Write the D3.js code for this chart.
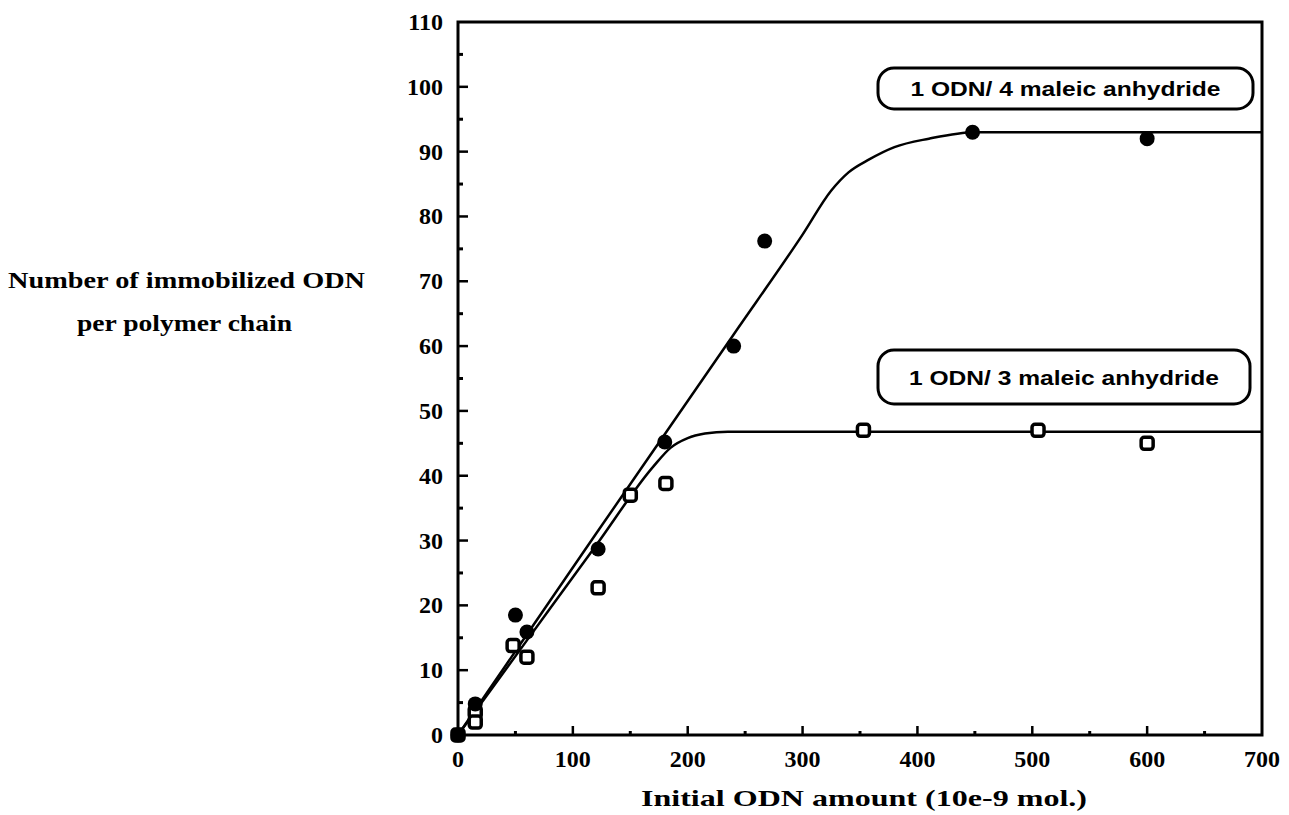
<!DOCTYPE html>
<html>
<head>
<meta charset="utf-8">
<script src="https://cdn.jsdelivr.net/npm/d3@7"></script>
<style>
  html, body { margin: 0; padding: 0; background: #fff; }
  svg { display: block; }
  .tick-lbl { font-family: "Liberation Serif", "DejaVu Serif", serif; font-weight: bold; font-size: 24px; fill: #000; }
  .ttl { font-family: "Liberation Serif", "DejaVu Serif", serif; font-weight: bold; font-size: 24px; fill: #000; }
  .lg { font-family: "Liberation Sans", Arial, sans-serif; font-weight: bold; font-size: 20px; fill: #000; }
</style>
</head>
<body>
<div id="chart"></div>
<script>
// ---- data ----
// 1 ODN / 4 maleic anhydride (filled circles)
const odn4X = [0, 15, 50, 60, 122, 180, 240, 267, 448, 600];
const odn4Y = [0, 4.8, 18.5, 15.9, 28.7, 45.2, 60, 76.2, 93, 92];
// 1 ODN / 3 maleic anhydride (open squares)
const odn3X = [0, 15, 15, 48, 60, 122, 150, 181, 353, 505, 600];
const odn3Y = [0, 3.5, 2, 13.8, 12, 22.7, 37, 38.8, 47, 47, 45];
// hand-drawn fit curves
const fit4X = [0, 60, 120, 180, 240, 300, 325, 340, 358, 380, 410, 450, 700];
const fit4Y = [0, 15.5, 31, 46.4, 61.8, 77.2, 84, 86.8, 88.8, 90.7, 92, 93, 93];
const fit3X = [0, 60, 120, 170, 185, 200, 215, 235, 260, 700];
const fit3Y = [0, 14.6, 29.2, 41.4, 44.3, 45.8, 46.5, 46.8, 46.8, 46.8];

const xTicks = [0, 100, 200, 300, 400, 500, 600, 700];
const yTicks = [0, 10, 20, 30, 40, 50, 60, 70, 80, 90, 100, 110];
const legendLabels = ["1 ODN/ 4 maleic anhydride", "1 ODN/ 3 maleic anhydride"];
const yTitle = ["Number of immobilized ODN", "per polymer chain"];
const xTitle = "Initial ODN amount (10e-9 mol.)";

(function () {
  const W = 1289, H = 815;
  const box = { left: 458, right: 1262, top: 22, bottom: 735 };
  const svg = d3.select("#chart").append("svg").attr("width", W).attr("height", H);

  const x = d3.scaleLinear().domain([0, 700]).range([box.left, box.right]);
  const y = d3.scaleLinear().domain([0, 110]).range([box.bottom, box.top]);

  // frame
  svg.append("rect").attr("x", box.left).attr("y", box.top)
    .attr("width", box.right - box.left).attr("height", box.bottom - box.top)
    .attr("fill", "none").attr("stroke", "#000").attr("stroke-width", 3);

  // ticks: majors + minors pointing inward
  const g = svg.append("g");
  d3.range(0, 701, 50).forEach((v) => {
    const major = v % 100 === 0;
    if (v === 0 || v === 700) return;
    g.append("line").attr("x1", x(v)).attr("x2", x(v)).attr("y1", box.bottom)
      .attr("y2", box.bottom - (major ? 9 : 4)).attr("stroke", "#000").attr("stroke-width", major ? 2.5 : 3);
  });
  d3.range(0, 111, 5).forEach((v) => {
    const major = v % 10 === 0;
    if (v === 0 || v === 110) return;
    g.append("line").attr("y1", y(v)).attr("y2", y(v)).attr("x1", box.left)
      .attr("x2", box.left + (major ? 10 : 5)).attr("stroke", "#000").attr("stroke-width", major ? 2.5 : 3);
  });

  // tick labels
  svg.selectAll("text.xl").data(xTicks).join("text").attr("class", "tick-lbl xl")
    .attr("x", (d) => x(d)).attr("y", box.bottom + 32).attr("text-anchor", "middle").text((d) => d);
  svg.selectAll("text.yl").data(yTicks).join("text").attr("class", "tick-lbl yl")
    .attr("x", box.left - 15).attr("y", (d) => y(d) + 8).attr("text-anchor", "end").text((d) => d);

  // titles
  svg.append("text").attr("class", "ttl").attr("x", (box.left + box.right) / 2 + 4).attr("y", 806)
    .attr("text-anchor", "middle").attr("textLength", 446).attr("lengthAdjust", "spacingAndGlyphs").text(xTitle);
  svg.append("text").attr("class", "ttl").attr("x", 8).attr("y", 288)
    .attr("textLength", 357).attr("lengthAdjust", "spacingAndGlyphs").text(yTitle[0]);
  svg.append("text").attr("class", "ttl").attr("x", 77).attr("y", 331)
    .attr("textLength", 215).attr("lengthAdjust", "spacingAndGlyphs").text(yTitle[1]);

  // fit curves
  const line = d3.line().x((d) => x(d[0])).y((d) => y(d[1])).curve(d3.curveMonotoneX);
  [[fit4X, fit4Y], [fit3X, fit3Y]].forEach(([xs, ys]) => {
    svg.append("path").datum(xs.map((v, i) => [v, ys[i]])).attr("d", line)
      .attr("fill", "none").attr("stroke", "#000").attr("stroke-width", 2.5);
  });

  // markers
  svg.selectAll("rect.sq").data(odn3X.map((v, i) => [v, odn3Y[i]])).join("rect").attr("class", "sq")
    .attr("x", (d) => x(d[0]) - 6).attr("y", (d) => y(d[1]) - 6).attr("width", 12).attr("height", 12)
    .attr("rx", 3).attr("fill", "#fff").attr("stroke", "#000").attr("stroke-width", 3.5);
  svg.selectAll("circle.dot").data(odn4X.map((v, i) => [v, odn4Y[i]])).join("circle").attr("class", "dot")
    .attr("cx", (d) => x(d[0])).attr("cy", (d) => y(d[1])).attr("r", 7.5).attr("fill", "#000");

  // legend boxes
  const lgBoxes = [{ x: 878, y: 68, w: 375, h: 41, ty: 96 }, { x: 878, y: 350, w: 372, h: 54, ty: 385 }];
  lgBoxes.forEach((b, i) => {
    svg.append("rect").attr("x", b.x).attr("y", b.y).attr("width", b.w).attr("height", b.h)
      .attr("rx", 16).attr("fill", "#fff").attr("stroke", "#000").attr("stroke-width", 3);
    svg.append("text").attr("class", "lg").attr("x", b.x + b.w / 2).attr("y", b.ty)
      .attr("text-anchor", "middle").attr("textLength", 310).attr("lengthAdjust", "spacingAndGlyphs")
      .text(legendLabels[i]);
  });
})();
</script>
</body>
</html>
